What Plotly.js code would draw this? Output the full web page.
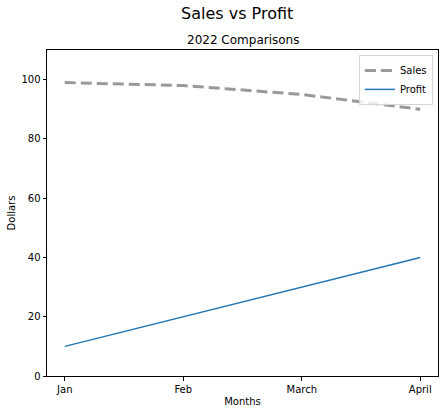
<!DOCTYPE html>
<html>
<head>
<meta charset="utf-8">
<script src="https://cdn.plot.ly/plotly-3.0.1.min.js"></script>
<style>
  html, body { margin: 0; padding: 0; background: #fff; }
  #chart { width: 445px; height: 414px; }
</style>
</head>
<body>
<div id="chart"></div>
<script>
// Monthly figures for 2022
const months = ["Jan", "Feb", "March", "April"];
const sales = [99, 98, 95, 90];
const profit = [10, 20, 30, 40];
const yTicks = [0, 20, 40, 60, 80, 100];

const font = "DejaVu Sans, sans-serif";

const traces = [
  {
    x: [0, 1, 2, 3], y: sales, name: "Sales", mode: "lines",
    line: { color: "#999999", width: 3, dash: "11px,5px" }
  },
  {
    x: [0, 1, 2, 3], y: profit, name: "Profit", mode: "lines",
    line: { color: "#1f77b4", width: 1.5 }
  }
];

const layout = {
  width: 445, height: 414,
  margin: { l: 47, r: 7, t: 50, b: 38 },
  paper_bgcolor: "#fff", plot_bgcolor: "#fff",
  font: { family: font, size: 10, color: "#000" },
  showlegend: true,
  legend: {
    x: 0.987, y: 0.985, xanchor: "right", yanchor: "top",
    bgcolor: "rgba(255,255,255,0.8)", bordercolor: "#d5d5d5", borderwidth: 1,
    font: { family: font, size: 10 }, tracegroupgap: 0, itemwidth: 30
  },
  xaxis: {
    range: [-0.15, 3.15],
    tickmode: "array", tickvals: [0, 1, 2, 3], ticktext: months,
    showgrid: false, zeroline: false,
    showline: true, linecolor: "#000", linewidth: 1, mirror: true,
    ticks: "outside", ticklen: 3.5, tickcolor: "#000",
    title: { text: "Months", font: { family: font, size: 10 }, standoff: 4 }
  },
  yaxis: {
    range: [0, 110],
    tickmode: "array", tickvals: yTicks,
    showgrid: false, zeroline: false,
    showline: true, linecolor: "#000", linewidth: 1, mirror: true,
    ticks: "outside", ticklen: 3.5, tickcolor: "#000",
    title: { text: "Dollars", font: { family: font, size: 10 }, standoff: 3 }
  },
  annotations: [
    {
      text: "Sales vs Profit", xref: "paper", yref: "paper",
      x: 0.486, y: 1, yshift: 37, xanchor: "center", yanchor: "middle",
      showarrow: false, font: { family: font, size: 16 }
    },
    {
      text: "2022 Comparisons", xref: "paper", yref: "paper",
      x: 0.5, y: 1, yshift: 10, xanchor: "center", yanchor: "middle",
      showarrow: false, font: { family: font, size: 12 }
    }
  ]
};

Plotly.newPlot("chart", traces, layout, { displayModeBar: false, staticPlot: true });
</script>
</body>
</html>
